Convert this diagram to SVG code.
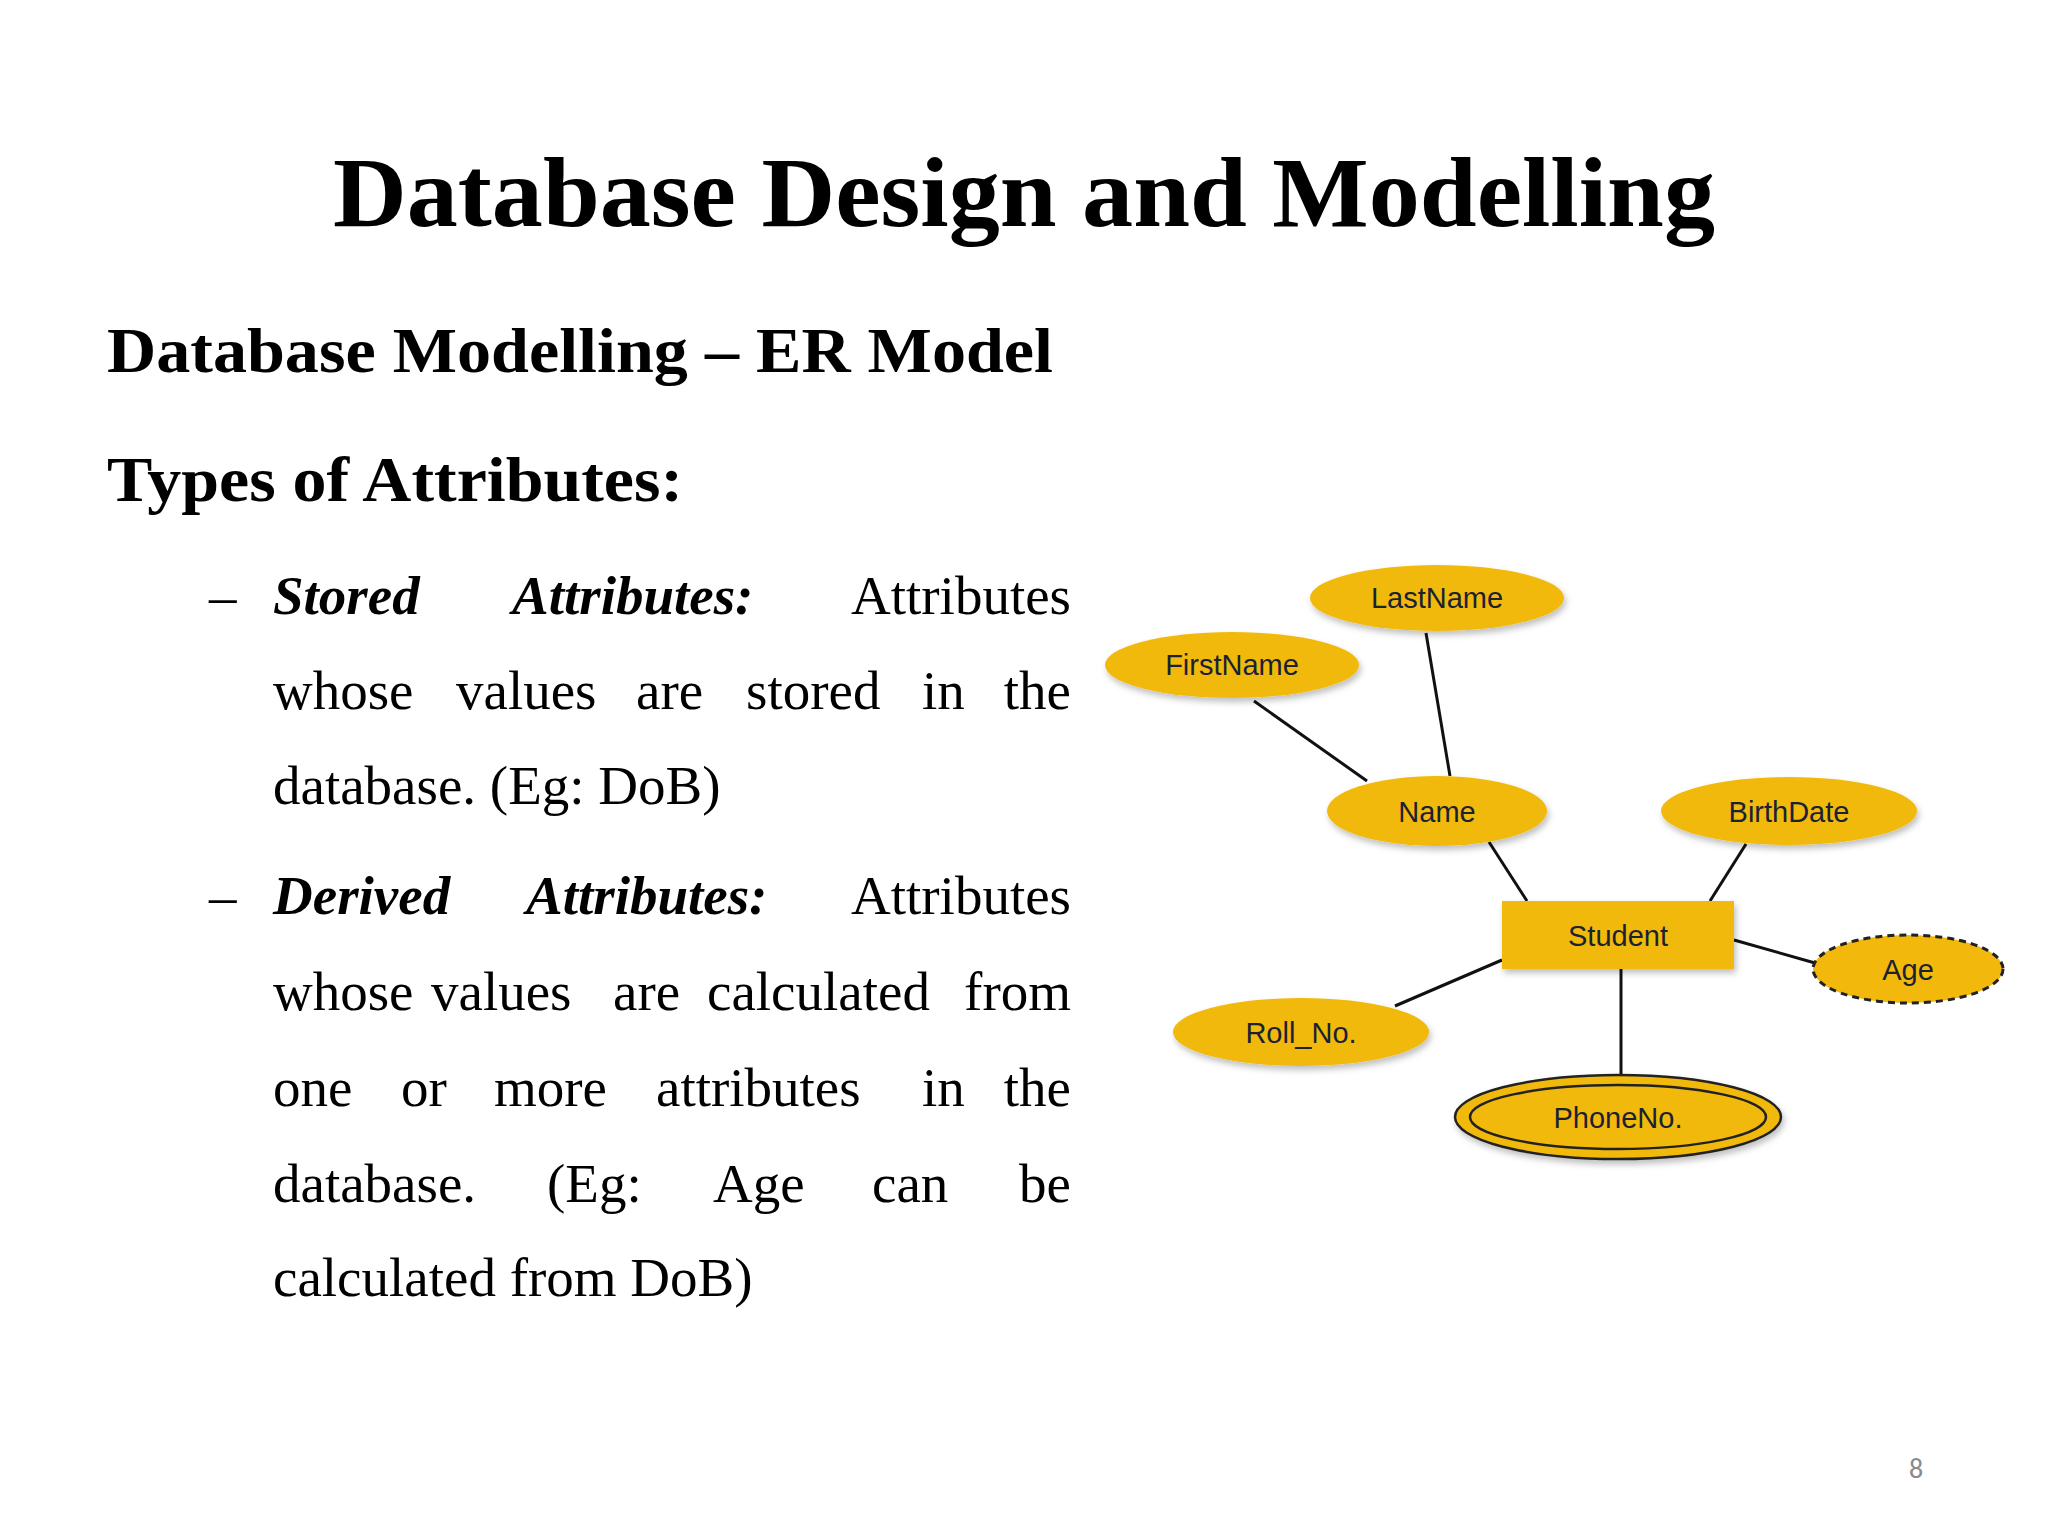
<svg xmlns="http://www.w3.org/2000/svg" width="2048" height="1536" viewBox="0 0 2048 1536">
<style>
.t{font-family:"Liberation Serif",serif;fill:#000}
.b{font-size:55px}
.bi{font-size:55px;font-weight:bold;font-style:italic}
.n{fill:#F2B90C}
.l{stroke:#111;stroke-width:3}
.lab{font-family:"Liberation Sans",Arial,sans-serif;font-size:29px;fill:#1a2233;text-anchor:middle}
</style>
<defs><filter id="sh" x="-20%" y="-20%" width="140%" height="150%"><feDropShadow dx="2" dy="4" stdDeviation="3" flood-color="#000" flood-opacity="0.25"/></filter></defs>
<rect width="2048" height="1536" fill="#fff"/>
<text class="t" x="1024" y="226" font-size="100" font-weight="bold" text-anchor="middle" textLength="1382" lengthAdjust="spacingAndGlyphs">Database Design and Modelling</text>
<text class="t" x="107" y="372" font-size="64" font-weight="bold" textLength="946" lengthAdjust="spacingAndGlyphs">Database Modelling – ER Model</text>
<text class="t" x="107" y="501" font-size="64" font-weight="bold" textLength="576" lengthAdjust="spacingAndGlyphs">Types of Attributes:</text>
<g class="t">
<text class="b" x="209" y="614">–</text>
<text class="bi" x="273" y="614">Stored</text><text class="bi" x="512" y="614">Attributes:</text><text class="b" x="1071" y="614" text-anchor="end">Attributes</text>
<text class="b" x="273" y="709">whose</text><text class="b" x="456" y="709">values</text><text class="b" x="636" y="709">are</text><text class="b" x="746" y="709">stored</text><text class="b" x="922" y="709">in</text><text class="b" x="1071" y="709" text-anchor="end">the</text>
<text class="b" x="273" y="804">database. (Eg: DoB)</text>
<text class="b" x="209" y="914">–</text>
<text class="bi" x="273" y="914">Derived</text><text class="bi" x="526" y="914">Attributes:</text><text class="b" x="1071" y="914" text-anchor="end">Attributes</text>
<text class="b" x="273" y="1010">whose</text><text class="b" x="431" y="1010">values</text><text class="b" x="613" y="1010">are</text><text class="b" x="707" y="1010">calculated</text><text class="b" x="1071" y="1010" text-anchor="end">from</text>
<text class="b" x="273" y="1106">one</text><text class="b" x="401" y="1106">or</text><text class="b" x="494" y="1106">more</text><text class="b" x="656" y="1106">attributes</text><text class="b" x="922" y="1106">in</text><text class="b" x="1071" y="1106" text-anchor="end">the</text>
<text class="b" x="273" y="1202">database.</text><text class="b" x="547" y="1202">(Eg:</text><text class="b" x="713" y="1202">Age</text><text class="b" x="872" y="1202">can</text><text class="b" x="1071" y="1202" text-anchor="end">be</text>
<text class="b" x="273" y="1296">calculated from DoB)</text>
</g>
<g id="connectors">
<line class="l" x1="1254" y1="701" x2="1367" y2="781"/>
<line class="l" x1="1426" y1="633" x2="1450" y2="776"/>
<line class="l" x1="1489" y1="842" x2="1527" y2="901"/>
<line class="l" x1="1746" y1="844" x2="1710" y2="901"/>
<line class="l" x1="1734" y1="940" x2="1815" y2="963"/>
<line class="l" x1="1395" y1="1006" x2="1502" y2="960"/>
<line class="l" x1="1621" y1="969" x2="1621" y2="1074"/>
</g>
<g id="LastName"><ellipse class="n" filter="url(#sh)" cx="1437" cy="598" rx="127" ry="33"/><text class="lab" x="1437" y="608">LastName</text></g>
<g id="FirstName"><ellipse class="n" filter="url(#sh)" cx="1232" cy="665" rx="127" ry="33"/><text class="lab" x="1232" y="675">FirstName</text></g>
<g id="Name"><ellipse class="n" filter="url(#sh)" cx="1437" cy="811" rx="110" ry="35"/><text class="lab" x="1437" y="822">Name</text></g>
<g id="BirthDate"><ellipse class="n" filter="url(#sh)" cx="1789" cy="811" rx="128" ry="34"/><text class="lab" x="1789" y="822">BirthDate</text></g>
<g id="Student"><rect class="n" filter="url(#sh)" x="1502" y="901" width="232" height="68"/><text class="lab" x="1618" y="946">Student</text></g>
<g id="Age"><ellipse class="n" cx="1908" cy="969" rx="95" ry="34" stroke="#222" stroke-width="3" stroke-dasharray="7,5"/><text class="lab" x="1908" y="980">Age</text></g>
<g id="Roll_No"><ellipse class="n" filter="url(#sh)" cx="1301" cy="1032" rx="128" ry="34"/><text class="lab" x="1301" y="1043">Roll_No.</text></g>
<g id="PhoneNo"><ellipse class="n" filter="url(#sh)" cx="1618" cy="1117" rx="163" ry="42" stroke="#222" stroke-width="2.5"/><ellipse fill="none" cx="1618" cy="1117" rx="148" ry="32" stroke="#222" stroke-width="2.5"/><text class="lab" x="1618" y="1128">PhoneNo.</text></g>
<text x="1916" y="1478" font-family="Calibri,'Liberation Sans',sans-serif" font-size="28" fill="#8a8a8a" text-anchor="middle">8</text>
</svg>
